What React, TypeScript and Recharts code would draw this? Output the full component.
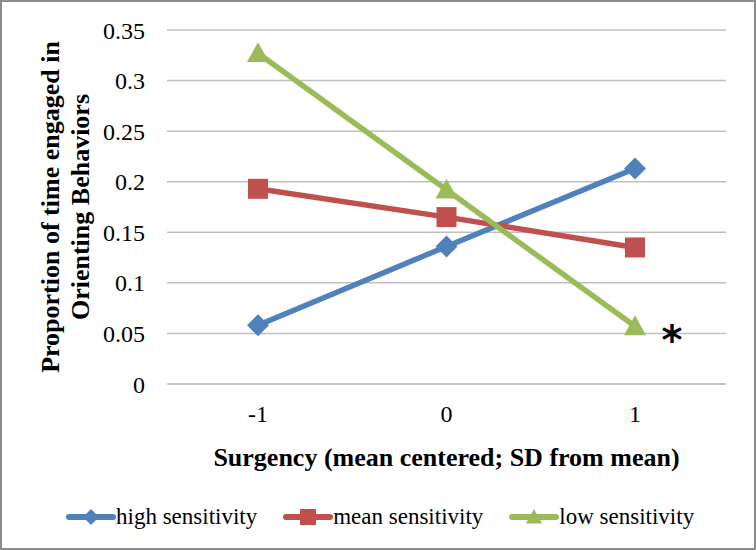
import { LineChart, Line, XAxis, YAxis, CartesianGrid, Legend, LabelList } from 'recharts'

const categories = ['-1', '0', '1']
const highSensitivity = [0.058, 0.136, 0.213]
const meanSensitivity = [0.193, 0.165, 0.135]
const lowSensitivity = [0.327, 0.192, 0.057]
const yTicks = [0, 0.05, 0.1, 0.15, 0.2, 0.25, 0.3, 0.35]

const data = categories.map((c, i) => ({
  x: c,
  high: highSensitivity[i],
  mean: meanSensitivity[i],
  low: lowSensitivity[i],
}))

const FONT = '"Liberation Serif", "Times New Roman", serif'
const BLUE = '#4F81BD'
const RED = '#C0504D'
const GREEN = '#9BBB59'

const Diamond = ({ cx, cy, fill, r = 11 }: any) => (
  <polygon points={`${cx},${cy - r} ${cx + r},${cy} ${cx},${cy + r} ${cx - r},${cy}`} fill={fill} />
)
const Square = ({ cx, cy, fill, r = 10 }: any) => (
  <rect x={cx - r} y={cy - r} width={r * 2} height={r * 2} fill={fill} />
)
const Triangle = ({ cx, cy, fill, r = 11 }: any) => (
  <polygon points={`${cx},${cy - r} ${cx + r},${cy + r * 0.8} ${cx - r},${cy + r * 0.8}`} fill={fill} />
)

const legendItems = [
  { label: 'high sensitivity', color: BLUE, Shape: Diamond },
  { label: 'mean sensitivity', color: RED, Shape: Square },
  { label: 'low sensitivity', color: GREEN, Shape: Triangle },
]

const LegendContent = () => (
  <div style={{ display: 'flex', alignItems: 'center', height: 40, paddingLeft: 64, fontFamily: FONT, fontSize: 23, color: '#000' }}>
    {legendItems.map(({ label, color, Shape }) => (
      <div key={label} style={{ display: 'flex', alignItems: 'center', marginRight: 26 }}>
        <svg width={50} height={24}>
          <line x1={3} y1={12} x2={47} y2={12} stroke={color} strokeWidth={6} strokeLinecap="round" />
          <Shape cx={25} cy={12} fill={color} r={8} />
        </svg>
        <span>{label}</span>
      </div>
    ))}
  </div>
)

const YLabel = ({ viewBox }: any) => {
  const cy = viewBox.y + viewBox.height / 2
  const style = { fontFamily: FONT, fontSize: 26, fontWeight: 'bold' as const, fill: '#000' }
  return (
    <g>
      <text x={48} y={cy} transform={`rotate(-90 48 ${cy})`} textAnchor="middle" dominantBaseline="central" style={style}>
        Proportion of time engaged in
      </text>
      <text x={78} y={cy} transform={`rotate(-90 78 ${cy})`} textAnchor="middle" dominantBaseline="central" style={style}>
        Orienting Behaviors
      </text>
    </g>
  )
}

const Asterisk = (props: any) => {
  const { x, y, index } = props
  if (index !== 2) return null
  return (
    <text x={x + 37} y={y + 28} textAnchor="middle" style={{ fontFamily: 'DejaVu Sans, sans-serif', fontSize: 40, fontWeight: 'bold' }} fill="#000">
      *
    </text>
  )
}

export default function App() {
  return (
    <div style={{ position: 'absolute', left: 0, top: 0, width: 756, height: 550, boxSizing: 'border-box', border: '2px solid #8c8c8c', background: '#fff' }}>
      <LineChart width={752} height={546} data={data} margin={{ top: 28, right: 28, left: 0, bottom: 11 }}>
        <CartesianGrid vertical={false} stroke="#bfbfbf" strokeWidth={1.5} />
        <XAxis
          dataKey="x"
          height={113}
          padding={{ left: 91, right: 91 }}
          axisLine={{ stroke: '#bfbfbf', strokeWidth: 1.5 }}
          tickLine={false}
          tickMargin={15}
          tick={{ fontFamily: FONT, fontSize: 24, fill: '#000' }}
          label={{ value: 'Surgency (mean centered; SD from mean)', position: 'insideTop', offset: 64, style: { fontFamily: FONT, fontSize: 26, fontWeight: 'bold', fill: '#000' } }}
        />
        <YAxis
          width={165}
          domain={[0, 0.35]}
          ticks={yTicks}
          axisLine={false}
          tickLine={false}
          tickMargin={16}
          tick={{ fontFamily: FONT, fontSize: 24, fill: '#000' }}
          label={<YLabel />}
        />
        <Legend verticalAlign="bottom" content={<LegendContent />} />
        <Line dataKey="high" name="high sensitivity" stroke={BLUE} strokeWidth={5.5} isAnimationActive={false} dot={(p: any) => <Diamond key={p.index} cx={p.cx} cy={p.cy} fill={BLUE} />} activeDot={false} />
        <Line dataKey="mean" name="mean sensitivity" stroke={RED} strokeWidth={5.5} isAnimationActive={false} dot={(p: any) => <Square key={p.index} cx={p.cx} cy={p.cy} fill={RED} />} activeDot={false} />
        <Line dataKey="low" name="low sensitivity" stroke={GREEN} strokeWidth={5.5} isAnimationActive={false} dot={(p: any) => <Triangle key={p.index} cx={p.cx} cy={p.cy} fill={GREEN} />} activeDot={false}>
          <LabelList dataKey="low" content={<Asterisk />} />
        </Line>
      </LineChart>
    </div>
  )
}
